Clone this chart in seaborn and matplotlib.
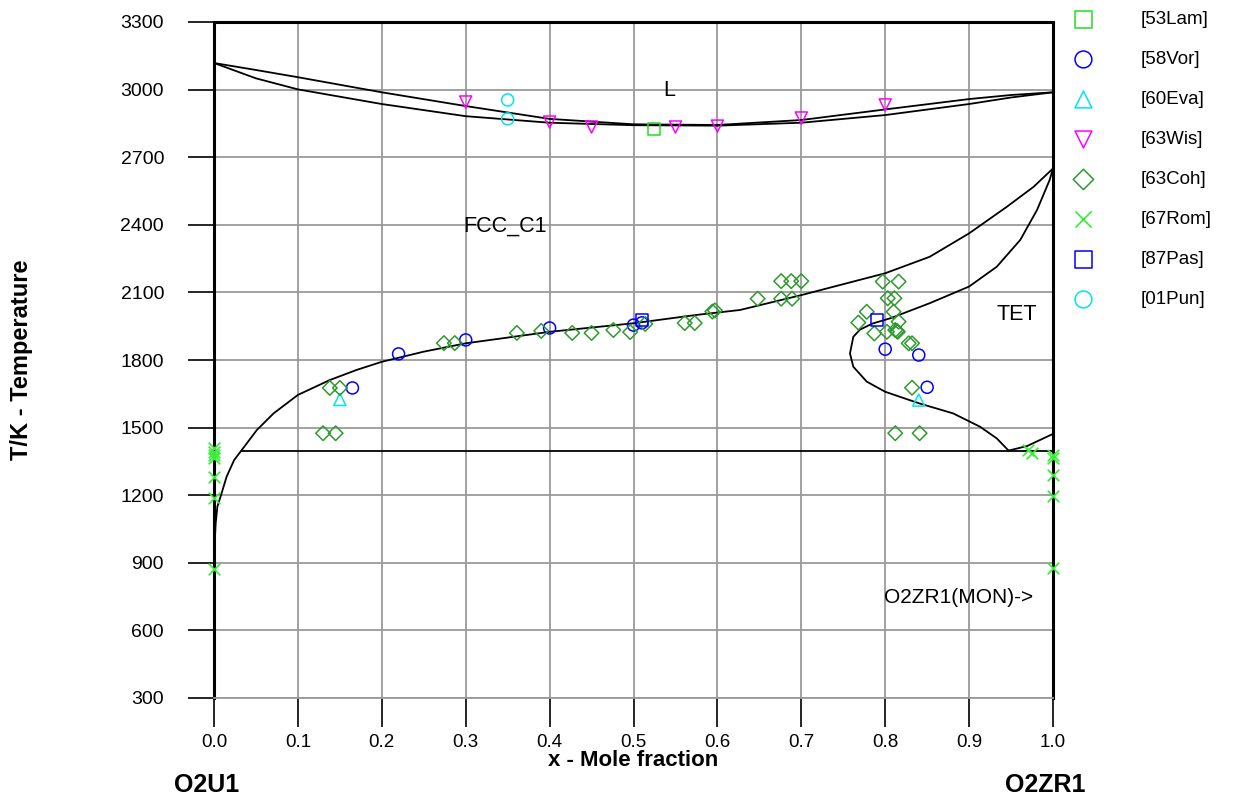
import numpy as np
import pandas as pd
import seaborn as sns
import matplotlib.pyplot as plt

# phase boundaries
liq_x = [0.0, 0.05, 0.1, 0.2, 0.3, 0.4, 0.5, 0.6, 0.7, 0.8, 0.9, 0.95, 1.0]
liq_T = [3118, 3087, 3055, 2988, 2927, 2870, 2846, 2843, 2865, 2912, 2958, 2976, 2988]
sol_x = [0.0, 0.05, 0.1, 0.2, 0.3, 0.4, 0.5, 0.6, 0.7, 0.8, 0.9, 0.95, 1.0]
sol_T = [3118, 3050, 3001, 2936, 2882, 2853, 2842, 2840, 2853, 2887, 2936, 2965, 2988]

fcc_x = [0.001, 0.002, 0.004, 0.009, 0.015, 0.024, 0.033, 0.051, 0.071, 0.10, 0.138, 0.17,
         0.20, 0.25, 0.30, 0.40, 0.50, 0.575, 0.627, 0.70, 0.80, 0.853, 0.90, 0.945, 0.977, 1.0]
fcc_T = [1000, 1075, 1149, 1208, 1282, 1356, 1400, 1489, 1563, 1645, 1711, 1756,
         1792, 1837, 1874, 1925, 1963, 2000, 2022, 2088, 2185, 2258, 2362, 2480, 2569, 2650]

tet_x = [1.0, 0.996, 0.981, 0.961, 0.933, 0.90, 0.853, 0.806, 0.785, 0.77, 0.762, 0.758,
         0.762, 0.778, 0.80, 0.841, 0.881, 0.913, 0.933, 0.947]
tet_T = [2650, 2599, 2466, 2333, 2214, 2126, 2052, 1985, 1962, 1935, 1903, 1829,
         1770, 1704, 1659, 1607, 1563, 1504, 1452, 1398]

eut_x = [0.033, 1.0]
eut_T = [1398, 1398]
mon_x = [0.947, 0.969, 1.0]
mon_T = [1398, 1418, 1472]

# experimental points
lam_x = [0.525]
lam_T = [2825]
vor_x = [0.165, 0.22, 0.30, 0.40, 0.50, 0.51, 0.80, 0.84, 0.85]
vor_T = [1676, 1827, 1889, 1942, 1955, 1965, 1848, 1822, 1679]
eva_x = [0.15, 0.84]
eva_T = [1625, 1622]
wis_x = [0.30, 0.40, 0.45, 0.55, 0.60, 0.70, 0.80]
wis_T = [2945, 2856, 2834, 2834, 2838, 2874, 2932]
coh_x = [0.13, 0.145, 0.138, 0.15, 0.274, 0.287, 0.361, 0.39, 0.427, 0.45, 0.476, 0.496,
         0.514, 0.561, 0.573, 0.594, 0.597, 0.648, 0.676, 0.688, 0.70, 0.676, 0.689,
         0.797, 0.816, 0.803, 0.811, 0.778, 0.810, 0.768, 0.787, 0.802, 0.816, 0.812,
         0.815, 0.814, 0.828, 0.832, 0.832, 0.812, 0.841]
coh_T = [1475, 1475, 1676, 1676, 1875, 1875, 1920, 1929, 1920, 1920, 1933, 1924,
         1960, 1964, 1964, 2015, 2020, 2072, 2150, 2150, 2150, 2072, 2072,
         2148, 2148, 2074, 2074, 2014, 2014, 1966, 1918, 1925, 1970, 1933,
         1925, 1929, 1874, 1874, 1677, 1475, 1475]
rom_x = [0.0, 0.0, 0.0, 0.0, 0.0, 0.0, 0.0, 0.97, 0.975, 1.0, 1.0, 1.0, 1.0, 1.0]
rom_T = [1408, 1393, 1378, 1363, 1282, 1189, 872, 1400, 1388, 1380, 1365, 1290, 1195, 875]
pas_x = [0.51, 0.79]
pas_T = [1977, 1977]
pun_x = [0.35, 0.35]
pun_T = [2954, 2870]

refs = [
    ("[53Lam]", lam_x, lam_T, "s", "#22dd22"),
    ("[58Vor]", vor_x, vor_T, "o", "#0000ff"),
    ("[60Eva]", eva_x, eva_T, "^", "#00e5ee"),
    ("[63Wis]", wis_x, wis_T, "v", "#ff00ff"),
    ("[63Coh]", coh_x, coh_T, "D", "#2e9a2e"),
    ("[67Rom]", rom_x, rom_T, "x", "#33ee33"),
    ("[87Pas]", pas_x, pas_T, "s", "#0000ff"),
    ("[01Pun]", pun_x, pun_T, "o", "#00e5ee"),
]

sns.set_theme(style="white")
plt.rcParams['font.family'] = ['Liberation Sans', 'DejaVu Sans']
plt.rcParams['text.color'] = 'black'
plt.rcParams['xtick.color'] = 'black'
plt.rcParams['ytick.color'] = 'black'

fig = plt.figure(figsize=(12.4, 7.97), dpi=100)
ax = fig.add_axes([214/1240, 1-698/797, 839/1240, 676/797])

for xs, ts in [(liq_x, liq_T), (sol_x, sol_T), (fcc_x, fcc_T), (tet_x, tet_T),
               (eut_x, eut_T), (mon_x, mon_T)]:
    sns.lineplot(x=xs, y=ts, sort=False, color="black", lw=1.3, ax=ax, estimator=None)

for name, xs, ts, mk, col in refs:
    if mk == "x":
        sns.scatterplot(x=xs, y=ts, marker=mk, color=col, s=70, linewidth=1.2,
                        label=name, ax=ax, zorder=5, clip_on=False)
    else:
        size = 55 if mk == "D" else 75
        sns.scatterplot(x=xs, y=ts, marker=mk, color=col, facecolor="none",
                        edgecolor=col, s=size, linewidth=1.1, label=name, ax=ax,
                        zorder=5, clip_on=False)

ax.set_xlim(0, 1)
ax.set_ylim(300, 3300)
ax.set_xticks(np.arange(0, 1.01, 0.1))
ax.set_xticklabels([f"{v:.1f}" for v in np.arange(0, 1.01, 0.1)])
ax.set_yticks(np.arange(300, 3301, 300))
ax.grid(True, color="#9a9a9a", lw=1.3)
for s in ["top", "left", "right"]:
    ax.spines[s].set_color("black")
    ax.spines[s].set_linewidth(2.2)
ax.spines["bottom"].set_color("#9a9a9a")
ax.spines["bottom"].set_linewidth(1.3)
ax.tick_params(axis="y", direction="out", length=19, width=1.2, color="black",
               pad=17, labelsize=14, left=True)
ax.tick_params(axis="x", direction="out", length=21, width=1.2, color="black",
               pad=5, labelsize=13.5, bottom=True)

ax.set_xlabel("")
ax.set_ylabel("")
fig.text(633/1240, 1-760/797, "x - Mole fraction", ha="center", va="center",
         fontsize=16, fontweight="bold")
fig.text(22/1240, 1-360/797, "T/K - Temperature", ha="center", va="center",
         rotation=90, fontsize=17, fontweight="bold")
fig.text(207/1240, 1-785/797, "O2U1", ha="center", va="center", fontsize=18, fontweight="bold")
fig.text(1045/1240, 1-785/797, "O2ZR1", ha="center", va="center", fontsize=18, fontweight="bold")

ax.text(0.543, 2998, "L", ha="center", va="center", fontsize=15.5)
ax.text(0.347, 2395, "FCC_C1", ha="center", va="center", fontsize=15.5)
ax.text(0.957, 2000, "TET", ha="center", va="center", fontsize=15.5)
ax.text(0.976, 748, "O2ZR1(MON)->", ha="right", va="center", fontsize=15)

ax.legend(loc="upper left", bbox_to_anchor=(1.005, 1.027), frameon=False,
          fontsize=13.5, labelspacing=1.22, handletextpad=2.05, borderaxespad=0,
          markerscale=1.4)

fig.savefig("out.png", dpi=100)
